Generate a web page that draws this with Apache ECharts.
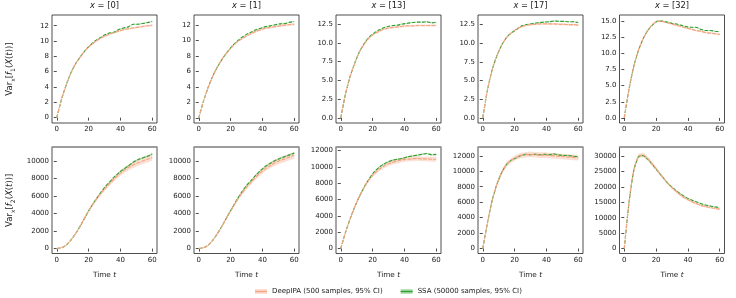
<!DOCTYPE html>
<html><head><meta charset="utf-8">
<script src="https://cdn.jsdelivr.net/npm/echarts@6/dist/echarts.min.js"></script>
<style>html,body{margin:0;padding:0;background:#fff}#c{width:736px;height:298px}</style>
</head><body><div id="c"></div>
<script>
// ---------- DATA ----------
const T = [0,3,6,9,12,15,18,21,24,27,30,33,36,39,42,45,48,51,54,57,60];
const panelX = ['0','1','13','17','32'];
const tickX = [0,20,40,60];

// Row 1: Var_x[f1(X(t))]
const deep_f1_x0  = [0,2.4,4.3,5.9,7.1,8.0,8.8,9.4,9.9,10.3,10.6,10.9,11.1,11.3,11.5,11.6,11.7,11.8,11.9,12.0,12.05];
const ssa_f1_x0   = [0,2.4,4.3,5.9,7.1,8.0,8.8,9.45,10.0,10.4,10.8,11.05,11.15,11.5,11.7,11.85,12.2,12.2,12.3,12.4,12.55];
const deep_f1_x1  = [0,2.2,4.0,5.5,6.7,7.7,8.5,9.2,9.8,10.2,10.6,10.9,11.2,11.4,11.6,11.7,11.8,11.9,12.0,12.05,12.1];
const ssa_f1_x1   = [0,2.2,4.0,5.5,6.7,7.7,8.55,9.3,9.9,10.4,10.8,11.1,11.4,11.6,11.8,11.9,12.05,12.15,12.2,12.35,12.45];
const deep_f1_x13 = [0,3.2,5.6,7.4,8.9,9.9,10.7,11.2,11.5,11.8,11.95,12.05,12.1,12.2,12.25,12.25,12.3,12.3,12.3,12.3,12.3];
const ssa_f1_x13  = [0,3.2,5.6,7.4,8.9,10.0,10.8,11.3,11.7,12.0,12.2,12.3,12.35,12.5,12.6,12.7,12.75,12.75,12.8,12.65,12.75];
const deep_f1_x17 = [0,3.8,6.5,8.4,9.8,10.8,11.4,11.9,12.2,12.4,12.5,12.55,12.6,12.6,12.6,12.6,12.55,12.55,12.5,12.5,12.45];
const ssa_f1_x17  = [0,3.8,6.5,8.4,9.8,10.8,11.4,11.8,12.3,12.5,12.6,12.7,12.8,12.85,12.9,13.0,12.95,12.95,12.9,12.9,12.8];
const deep_f1_x32 = [0,4.5,8.0,10.5,12.3,13.6,14.5,14.95,14.9,14.7,14.5,14.3,14.1,13.9,13.7,13.5,13.4,13.2,13.1,13.0,12.9];
const ssa_f1_x32  = [0,4.5,8.0,10.5,12.3,13.6,14.4,14.95,14.95,14.8,14.6,14.5,14.3,14.1,14.0,14.0,13.7,13.5,13.5,13.4,13.3];
// 95% CI half widths, row 1
const ciDeep_f1 = [0,0.03,0.05,0.06,0.07,0.08,0.09,0.1,0.1,0.11,0.11,0.12,0.12,0.12,0.13,0.13,0.13,0.14,0.14,0.14,0.15];
const ciSsa_f1  = [0,0.02,0.03,0.04,0.04,0.05,0.05,0.05,0.05,0.05,0.05,0.05,0.06,0.06,0.06,0.06,0.06,0.06,0.06,0.06,0.06];

// Row 2: Var_x[f2(X(t))]
const deep_f2_x0  = [0,100,400,1000,1750,2650,3650,4600,5400,6150,6800,7400,7950,8450,8900,9250,9550,9800,10000,10200,10400];
const ssa_f2_x0   = [0,100,400,1000,1750,2650,3650,4600,5450,6250,6950,7550,8150,8650,9050,9450,9850,10150,10350,10550,10800];
const deep_f2_x1  = [0,100,400,1000,1800,2700,3700,4600,5500,6300,7000,7600,8200,8700,9150,9500,9800,10050,10250,10450,10650];
const ssa_f2_x1   = [0,100,400,1000,1800,2700,3700,4650,5600,6450,7200,7800,8400,8950,9400,9750,10050,10300,10500,10700,10900];
const deep_f2_x13 = [0,2000,3700,5200,6500,7600,8500,9200,9700,10100,10400,10600,10750,10900,10950,11000,11050,11000,11000,10950,10950];
const ssa_f2_x13  = [0,2000,3700,5200,6500,7650,8600,9400,9950,10350,10650,10850,10950,11050,11250,11350,11450,11550,11650,11500,11550];
const deep_f2_x17 = [0,3400,6300,8400,9900,10900,11450,11800,12050,12150,12200,12150,12100,12100,12050,12000,11950,11900,11850,11800,11750];
const ssa_f2_x17  = [0,3400,6300,8400,9900,10900,11450,11750,12050,12200,12150,12200,12150,12200,12150,12250,12100,12050,12050,11950,11900];
const deep_f2_x32 = [0,15000,25500,30000,30300,29000,27200,25200,23200,21300,19700,18300,17100,16100,15300,14600,14000,13600,13300,13000,12800];
const ssa_f2_x32  = [0,15000,25300,29800,30100,28800,27000,25100,23200,21400,19900,18600,17500,16500,15800,15200,14600,14100,13800,13500,13300];
// 95% CI half widths, row 2
const ciDeep_f2_x0  = [0,10,30,60,90,120,150,180,200,220,240,260,280,300,320,330,340,350,360,370,380];
const ciSsa_f2_x0   = [0,5,10,20,30,40,50,55,60,65,70,75,80,85,90,95,100,100,105,110,110];
const ciDeep_f2_x13 = [0,60,110,150,180,200,220,240,250,260,270,280,280,290,290,300,300,300,300,300,300];
const ciSsa_f2_x13  = [0,20,35,45,55,60,65,70,75,80,80,85,85,90,90,90,90,90,90,90,90];
const ciDeep_f2_x17 = [0,100,180,230,270,300,320,340,350,360,360,360,360,360,360,360,360,360,360,360,360];
const ciSsa_f2_x17  = [0,30,50,70,80,90,95,100,100,100,100,100,100,100,100,100,100,100,100,100,100];
const ciDeep_f2_x32 = [0,400,600,700,700,650,600,550,500,450,420,400,380,360,350,340,330,320,310,300,300];
const ciSsa_f2_x32  = [0,150,200,220,220,210,200,190,180,170,160,150,150,140,140,130,130,130,120,120,120];

// Y tick labels
const ticksA = [0,2,4,6,8,10,12];
const ticksB = [0,2.5,5,7.5,10,12.5];
const ticksC = [0,2.5,5,7.5,10,12.5,15];
const ticksD = [0,2000,4000,6000,8000,10000];
const ticksE = [0,2000,4000,6000,8000,10000,12000];
const ticksF = [0,5000,10000,15000,20000,25000,30000];

const NAME_DEEP = 'DeepIPA (500 samples, 95% CI)';
const NAME_SSA = 'SSA (50000 samples, 95% CI)';

// ---------- PANELS ----------
const panels = [
  {deep:deep_f1_x0, ssa:ssa_f1_x0, cd:ciDeep_f1, cs:ciSsa_f1, ticks:ticksA, ymin:-0.7, ymax:13.4, dec:0},
  {deep:deep_f1_x1, ssa:ssa_f1_x1, cd:ciDeep_f1, cs:ciSsa_f1, ticks:ticksA, ymin:-0.65, ymax:13.3, dec:0},
  {deep:deep_f1_x13, ssa:ssa_f1_x13, cd:ciDeep_f1, cs:ciSsa_f1, ticks:ticksB, ymin:-0.68, ymax:13.7, dec:1},
  {deep:deep_f1_x17, ssa:ssa_f1_x17, cd:ciDeep_f1, cs:ciSsa_f1, ticks:ticksB, ymin:-0.7, ymax:13.8, dec:1},
  {deep:deep_f1_x32, ssa:ssa_f1_x32, cd:ciDeep_f1, cs:ciSsa_f1, ticks:ticksC, ymin:-0.78, ymax:15.9, dec:1},
  {deep:deep_f2_x0, ssa:ssa_f2_x0, cd:ciDeep_f2_x0, cs:ciSsa_f2_x0, ticks:ticksD, ymin:-560, ymax:11600, dec:0},
  {deep:deep_f2_x1, ssa:ssa_f2_x1, cd:ciDeep_f2_x0, cs:ciSsa_f2_x0, ticks:ticksD, ymin:-560, ymax:11600, dec:0},
  {deep:deep_f2_x13, ssa:ssa_f2_x13, cd:ciDeep_f2_x13, cs:ciSsa_f2_x13, ticks:ticksE, ymin:-610, ymax:12450, dec:0},
  {deep:deep_f2_x17, ssa:ssa_f2_x17, cd:ciDeep_f2_x17, cs:ciSsa_f2_x17, ticks:ticksE, ymin:-650, ymax:13150, dec:0},
  {deep:deep_f2_x32, ssa:ssa_f2_x32, cd:ciDeep_f2_x32, cs:ciSsa_f2_x32, ticks:ticksF, ymin:-1600, ymax:32900, dec:0}
];

const FONT = 'DejaVu Sans';
const TXT = '#1a1a1a';
const C_DEEP = '#f4a582', B_DEEP = 'rgba(245,160,125,0.32)';
const C_SSA = '#2ca02c', B_SSA = 'rgba(44,160,44,0.32)';
const lefts = [52, 194, 336, 478, 619.5];
const W = 105;
const tops = [15, 147];
const Hs = [108, 106.5];

const grids = [], xAxes = [], yAxes = [], series = [], titles = [];
const extraX = [];

panels.forEach((p, gi) => {
  const row = Math.floor(gi / 5), col = gi % 5;
  grids.push({left: lefts[col], top: tops[row], width: W, height: Hs[row],
    show: true, borderColor: '#222', borderWidth: 0.8, backgroundColor: 'transparent', containLabel: false});
  xAxes.push({type: 'value', gridIndex: gi, min: -3, max: 63,
    axisLine: {show: false}, splitLine: {show: false},
    axisTick: {show: true, length: 3, customValues: tickX, lineStyle: {color: '#222', width: 0.8}},
    axisLabel: {show: true, customValues: tickX, fontSize: 7, fontFamily: FONT, color: TXT, margin: 3},
    name: row === 1 ? 'Time {i|t}' : '', nameLocation: 'middle', nameGap: 18,
    nameTextStyle: {fontSize: 7.3, fontFamily: FONT, color: TXT, rich: {i: {fontStyle: 'italic', fontSize: 7.3, fontFamily: FONT, color: TXT}}}
  });
  yAxes.push({type: 'value', gridIndex: gi, min: p.ymin, max: p.ymax,
    axisLine: {show: false}, splitLine: {show: false},
    axisTick: {show: true, length: 3, customValues: p.ticks, lineStyle: {color: '#222', width: 0.8}},
    axisLabel: {show: true, customValues: p.ticks, fontSize: 7, fontFamily: FONT, color: TXT, margin: 3,
      formatter: v => p.dec ? Number(v).toFixed(p.dec) : String(Math.round(v))},
    name: col === 0 ? (row === 0 ? 'Var{s|x}[{i|f}{s|1}({i|X}({i|t}))]' : 'Var{s|x}[{i|f}{s|2}({i|X}({i|t}))]') : '',
    nameLocation: 'middle', nameRotate: 90, nameGap: 36,
    nameTextStyle: {fontSize: 8.5, fontFamily: FONT, color: TXT, lineHeight: 12,
      rich: {
        s: {fontSize: 6, fontFamily: FONT, color: TXT, lineHeight: 7, verticalAlign: 'bottom'},
        i: {fontSize: 8.5, fontStyle: 'italic', fontFamily: FONT, color: TXT, lineHeight: 12}
      }}
  });
  if (row === 1) {
    extraX.push({type: 'value', gridIndex: gi, position: 'top', min: -3, max: 63,
      axisLine: {show: true, lineStyle: {color: '#9a9a9a', width: 1.6}}, axisTick: {show: false},
      axisLabel: {show: false}, splitLine: {show: false}});
  }
  if (row === 0) {
    titles.push({text: '{i|x} = [' + panelX[col] + ']', left: lefts[col] + W / 2, top: 2, textAlign: 'center', padding: 0,
      textStyle: {fontSize: 8.3, fontWeight: 'normal', fontFamily: FONT, color: TXT,
        rich: {i: {fontStyle: 'italic', fontSize: 8.3, fontFamily: FONT, color: TXT}}}});
  }
  // CI band as a polygon through the axes' coordinate system
  const band = (mean, hw, color, bname) => {
    const rows = mean.map((v, i) => [T[i], v - hw[i], v + hw[i]]);
    series.push({type: 'custom', name: bname, xAxisIndex: gi, yAxisIndex: gi, silent: true,
      itemStyle: {color: color}, clip: true,
      encode: {x: 0, y: [1, 2]},
      data: rows,
      renderItem: (params, api) => {
        if (params.dataIndex !== 0) return null;
        const pts = [];
        for (let i = 0; i < rows.length; i++) pts.push(api.coord([rows[i][0], rows[i][2]]));
        for (let i = rows.length - 1; i >= 0; i--) pts.push(api.coord([rows[i][0], rows[i][1]]));
        return {type: 'polygon', shape: {points: pts}, style: {fill: color}};
      }});
  };
  band(p.ssa, p.cs, B_SSA, 'SSA band');
  band(p.deep, p.cd, B_DEEP, 'DeepIPA band');
  series.push({type: 'line', name: NAME_SSA, xAxisIndex: gi, yAxisIndex: gi, symbol: 'none', silent: true, smooth: 0.25,
    itemStyle: {color: C_SSA}, lineStyle: {color: C_SSA, width: 1.1, type: [3.5, 1.6]},
    data: p.ssa.map((v, i) => [T[i], v])});
  series.push({type: 'line', name: NAME_DEEP, xAxisIndex: gi, yAxisIndex: gi, symbol: 'none', silent: true, smooth: 0.25,
    itemStyle: {color: C_DEEP}, lineStyle: {color: C_DEEP, width: 1.2, type: [4, 1.2]},
    data: p.deep.map((v, i) => [T[i], v])});
});

const legendCommon = {orient: 'horizontal', left: 255, top: 288, padding: 0, itemGap: 18, itemWidth: 12,
  selectedMode: false};
const nameMap = {'DeepIPA band': NAME_DEEP, 'SSA band': NAME_SSA};

const option = {
  animation: false,
  backgroundColor: '#fff',
  title: titles,
  grid: grids,
  xAxis: xAxes.concat(extraX),
  yAxis: yAxes,
  legend: [
    Object.assign({}, legendCommon, {
      data: [{name: 'DeepIPA band', icon: 'rect', itemStyle: {color: B_DEEP}}, {name: 'SSA band', icon: 'rect', itemStyle: {color: B_SSA}}],
      itemHeight: 5, formatter: n => nameMap[n],
      textStyle: {fontSize: 7, fontFamily: FONT, color: 'rgba(0,0,0,0)'}
    }),
    Object.assign({}, legendCommon, {
      data: [{name: NAME_DEEP, icon: 'rect', itemStyle: {color: C_DEEP}}, {name: NAME_SSA, icon: 'rect', itemStyle: {color: C_SSA}}],
      itemHeight: 1.5,
      textStyle: {fontSize: 7, fontFamily: FONT, color: TXT}
    })
  ],
  series: series
};

const chart = echarts.init(document.getElementById('c'), null, {renderer: 'canvas', width: 736, height: 298});
chart.setOption(option);
</script>
</body></html>
